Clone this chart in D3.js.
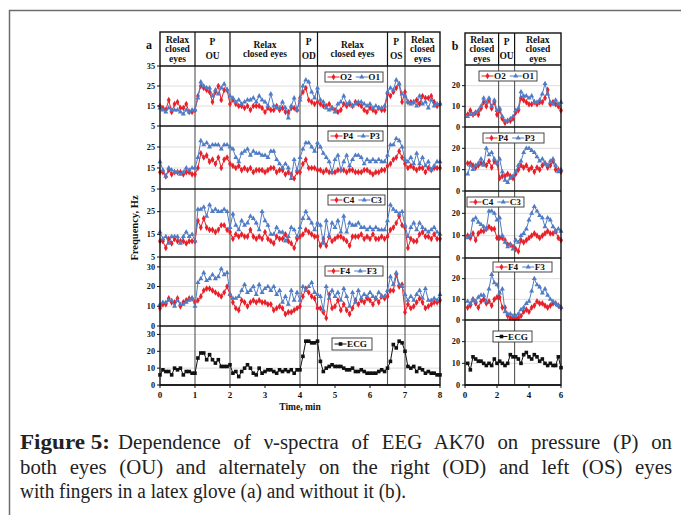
<!DOCTYPE html>
<html><head><meta charset="utf-8">
<script src="https://cdn.jsdelivr.net/npm/d3@7"></script>
<style>body{margin:0;background:#fff}svg{display:block}</style>
</head><body><svg id="c" width="681" height="515"></svg>
<script>
// ---------------- DATA ----------------
const timeA = d3.range(97).map(i => i / 12);      // panel a, min
const timeB = d3.range(1, 37).map(i => i / 6);    // panel b, min

const O2a = [15,14,13,18,12,16,17,14,14,16,12,12, 13,20,25,24,23,22,17,22,25,18,23,23,
  16,18,16,15,15,14,15,13,15,15,15,14,12,14,13,13,15,13,14,12,12,14,14,13, 19,22,24,18,17,16,
  17,16,15,15,16,14,13,12,13,16,15,16,15,17,16,15,13,12,14,13,12,14,13,13, 21,20,22,24,26,17,
  22,17,17,17,18,16,20,19,19,20,17,15,16];
const O1a = [14,13,12,14,13,13,13,12,11,13,12,13, 13,19,27,25,24,24,20,23,21,24,26,23,
  20,19,17,18,16,17,18,18,19,17,20,18,17,15,21,15,14,14,17,14,9,15,19,13, 18,25,28,27,22,19,
  24,18,17,14,13,14,12,16,17,20,16,17,15,16,17,17,16,15,16,14,15,14,14,15, 22,24,23,28,26,21,
  20,17,16,17,15,20,16,17,14,18,15,16,16];
const P4a = [13,13,11,14,12,13,13,13,12,13,13,12, 12,15,22,20,21,18,19,17,20,15,19,20,
  17,16,15,16,14,15,14,15,13,14,14,14,13,14,15,15,13,14,14,12,13,12,10,13, 13,17,19,15,15,15,
  14,14,13,14,13,13,13,14,14,14,13,14,14,13,13,13,14,14,13,12,13,13,14,14, 16,17,19,20,23,20,
  17,15,16,15,14,15,15,13,15,14,15,15,15];
const P3a = [18,14,11,15,14,13,13,12,13,15,14,15, 15,20,28,26,27,25,26,26,26,24,26,26,
  25,24,20,18,22,23,24,21,23,22,22,21,21,20,23,23,19,17,15,17,15,10,19,14, 20,24,27,27,25,23,
  27,25,22,20,18,13,19,21,14,18,21,16,19,21,21,20,17,19,18,19,18,19,18,18, 21,26,26,29,28,25,
  19,18,20,17,22,17,20,16,18,14,16,18,18];
const C4a = [12,12,9,13,11,13,12,12,12,11,12,12, 12,21,18,22,18,17,17,16,17,19,19,17,
  16,13,15,14,15,14,14,17,14,13,14,13,16,13,12,11,14,13,13,15,12,11,9,13, 14,15,17,16,15,14,
  14,10,13,10,14,12,13,14,14,13,12,10,14,14,14,15,13,14,13,15,13,13,14,13, 14,17,18,20,23,19,
  18,9,13,12,12,15,16,14,14,13,15,13,13];
const C3a = [16,13,14,11,14,14,14,11,14,16,14,15, 12,26,26,27,23,28,25,26,25,25,26,25,
  18,24,19,17,21,19,20,23,22,20,17,25,21,19,15,15,18,16,16,12,14,18,17,14, 18,22,25,22,20,17,
  20,19,11,21,14,20,18,21,16,23,16,20,19,19,20,18,18,17,18,17,18,17,17,17, 21,28,26,25,24,25,
  19,14,18,20,17,20,18,17,16,17,18,16,15];
const F4a = [9,11,11,14,12,12,14,10,12,13,14,14, 12,13,15,18,19,19,18,17,16,15,17,20,
  16,12,9,8,13,12,10,12,13,12,13,12,12,11,11,8,9,10,9,6,7,7,8,9, 10,15,19,17,15,14,
  9,9,7,4,16,9,10,13,8,11,8,6,9,13,11,13,12,14,13,11,14,12,15,14, 15,18,18,26,20,21,
  7,11,9,10,12,14,12,9,10,11,12,12,13];
const F3a = [11,12,12,13,13,10,13,11,11,12,13,14, 10,22,24,27,23,24,26,24,25,29,26,27,
  16,14,14,15,18,21,17,18,20,16,21,17,19,20,18,20,16,18,12,15,11,18,13,17, 13,20,18,20,22,17,
  16,15,8,20,14,18,15,17,13,19,15,10,17,12,18,14,16,15,17,15,14,17,15,15, 18,25,21,27,21,20,
  16,13,15,13,16,18,14,19,13,13,14,13,16];
const ECGa = [6,9,8,8,6,10,9,10,6,8,8,7, 7,16,19,19,15,18,15,13,15,11,11,11,
  12,7,8,5,8,10,12,10,7,6,10,7,8,9,9,8,7,9,8,9,8,9,7,9, 9,17,26,26,25,25,
  26,14,8,10,11,12,11,11,11,10,9,9,10,8,8,9,8,7,7,7,7,8,9,8, 10,14,24,22,26,25,
  20,11,10,11,8,10,9,7,8,7,7,6,6];

const O2b = [6,8,6,7,6,9,12,10,13,9,12,6, 8,4,2,3,3,4, 7,8,14,13,12,11,11,12,11,12,12,14,18,11,12,11,10,8];
const O1b = [5,6,6,7,8,10,14,12,14,10,13,8, 9,5,3,3,4,5, 8,9,17,15,15,14,15,12,12,13,16,21,16,12,11,13,11,12];
const P4b = [13,13,12,11,12,13,13,12,14,11,14,13, 6,7,7,8,7,6, 8,10,12,11,12,10,11,9,11,10,12,13,11,12,14,10,10,9];
const P3b = [8,12,10,12,13,15,12,20,17,18,15,13, 15,9,5,4,6,7, 9,12,14,18,20,20,19,18,16,14,15,13,12,14,15,12,9,10];
const C4b = [10,9,11,8,11,12,12,13,14,13,13,9, 9,9,8,6,6,5, 4,3,8,7,8,9,10,11,10,9,10,11,12,11,11,12,9,8];
const C3b = [9,10,17,18,16,15,14,13,21,21,20,17, 18,10,7,5,6,4, 8,7,10,11,13,17,20,23,21,19,18,14,18,17,14,12,13,12];
const F4b = [6,7,10,8,6,9,10,8,9,7,10,11, 11,6,6,2,1,1, 1,1,2,4,5,4,6,7,9,8,8,7,6,7,8,8,7,6];
const F3b = [9,8,10,9,11,12,12,9,15,22,18,17, 13,15,4,3,3,2, 2,3,5,6,8,9,14,20,17,16,13,15,12,10,9,8,7,6];
const ECGb = [10,7,13,12,11,11,10,9,10,9,12,10, 11,10,9,10,14,13, 13,12,10,14,15,13,12,14,13,11,12,10,9,10,9,9,13,8];

const phaseBoundsA = [0, 1, 2, 4, 4.5, 6.5, 7, 8];
const phaseBoundsB = [0, 2.1, 3.1, 6];
const phaseLabelsA = [["Relax","closed","eyes"],["P","OU"],["Relax","closed eyes"],["P","OD"],["Relax","closed eyes"],["P","OS"],["Relax","closed","eyes"]];
const phaseLabelsB = [["Relax","closed","eyes"],["P","OU"],["Relax","closed","eyes"]];
const yTicksA = [[35,25,15,5],[25,15,5],[25,15,5],[30,20,10,0],[30,20,10,0]];
const yTicksB = [[20,10,0],[20,10,0],[20,10,0],[20,10,0],[20,10,0]];
const xTicksA = [0,1,2,3,4,5,6,7,8];
const xTicksB = [0,2,4,6];
const rowNames = [["O2","O1"],["P4","P3"],["C4","C3"],["F4","F3"],["ECG"]];
const captionBold = "Figure 5:";
const captionLines = [
  "Dependence of ν-spectra of EEG AK70 on pressure (P) on",
  "both eyes (OU) and alternately on the right (OD) and left (OS) eyes",
  "with fingers in a latex glove (a) and without it (b)."
];

// ---------------- DRAW ----------------
const RED = "#e8202a", BLUE = "#4f7cc4", BLACK = "#111";
const svg = d3.select("#c");
svg.append("rect").attr("width",681).attr("height",515).attr("fill","#fff");
svg.append("path").attr("d","M9.5,515 V10.5 H681").attr("fill","none").attr("stroke","#6d6d6d").attr("stroke-width",1.5);

const FONT = "Liberation Serif, Times New Roman, serif";

function panel(cfg){
  const g = svg.append("g");
  const x = d3.scaleLinear().domain(cfg.xDomain).range([cfg.x0, cfg.x1]);
  const rows = cfg.rowEdges;
  const ys = cfg.series.map((s,i) => d3.scaleLinear().domain(cfg.domains[i]).range([rows[i+1], rows[i]]));
  cfg.series.forEach((s,i) => {
    cfg.yTicks[i].forEach(v => {
      const yy = ys[i](v);
      if (Math.abs(yy-rows[i])<1 || Math.abs(yy-rows[i+1])<1) return;
      g.append("line").attr("x1",cfg.x0).attr("x2",cfg.x1).attr("y1",yy).attr("y2",yy)
        .attr("stroke","#dedede").attr("stroke-width",1);
    });
  });
  cfg.bounds.slice(1,-1).forEach(b => {
    g.append("line").attr("x1",x(b)).attr("x2",x(b)).attr("y1",rows[0]).attr("y2",rows[5])
      .attr("stroke","#555").attr("stroke-width",1.1);
  });
  cfg.series.forEach((ser,i) => {
    const y = ys[i];
    ser.forEach(s => {
      const line = d3.line().x((d,k)=>x(cfg.time[k])).y(d=>y(d));
      g.append("path").attr("d",line(s.values)).attr("fill","none").attr("stroke",s.color).attr("stroke-width",1);
      const sym = d3.symbol().type(s.shape).size(s.size);
      g.selectAll(null).data(s.values).join("path")
        .attr("transform",(d,k)=>`translate(${x(cfg.time[k])},${y(d)})`)
        .attr("d",sym()).attr("fill",s.color);
    });
  });
  rows.forEach(r => g.append("line").attr("x1",cfg.x0).attr("x2",cfg.x1).attr("y1",r).attr("y2",r).attr("stroke","#111").attr("stroke-width",1.3));
  g.append("rect").attr("x",cfg.x0).attr("y",cfg.hTop).attr("width",cfg.x1-cfg.x0).attr("height",rows[5]-cfg.hTop)
    .attr("fill","none").attr("stroke","#111").attr("stroke-width",1.4);
  cfg.bounds.slice(1,-1).forEach(b => {
    g.append("line").attr("x1",x(b)).attr("x2",x(b)).attr("y1",cfg.hTop).attr("y2",rows[0]).attr("stroke","#111").attr("stroke-width",1.2);
  });
  cfg.labels.forEach((lab,i) => {
    const cx = (x(cfg.bounds[i])+x(cfg.bounds[i+1]))/2;
    const cy = (cfg.hTop+rows[0])/2;
    const lh = lab[0]==="P" ? 14 : 9.4;
    const t = g.append("text").attr("font-family",FONT).attr("font-weight","bold").attr("font-size",9.5)
      .attr("text-anchor","middle").attr("fill","#111");
    lab.forEach((s,k) => {
      t.append("tspan").attr("x",cx).attr("y",cy + (k-(lab.length-1)/2)*lh + 3.3).text(s);
    });
  });
  cfg.series.forEach((s,i) => {
    cfg.yTicks[i].forEach(v => {
      const yy = ys[i](v);
      g.append("line").attr("x1",cfg.x0-3).attr("x2",cfg.x0).attr("y1",yy).attr("y2",yy).attr("stroke","#111");
      g.append("text").attr("x",cfg.x0-5).attr("y",yy+2.8).attr("text-anchor","end")
        .attr("font-family",FONT).attr("font-weight","bold").attr("font-size",8.2).attr("fill","#111").text(v);
    });
  });
  cfg.xTicks.forEach(v => {
    g.append("line").attr("x1",x(v)).attr("x2",x(v)).attr("y1",rows[5]).attr("y2",rows[5]+3).attr("stroke","#111");
    g.append("text").attr("x",x(v)).attr("y",rows[5]+13).attr("text-anchor","middle")
      .attr("font-family",FONT).attr("font-weight","bold").attr("font-size",9).attr("fill","#111").text(v);
  });
  cfg.series.forEach((ser,i) => {
    const L = cfg.legends[i];
    const h = L.h;
    const lg = g.append("g").attr("transform",`translate(${L.x},${L.y})`);
    const box = lg.append("rect").attr("height",h).attr("fill","#fff").attr("stroke","#333").attr("stroke-width",0.9);
    let px = 2.5;
    ser.forEach((s,k) => {
      lg.append("line").attr("x1",px).attr("x2",px+12).attr("y1",h/2).attr("y2",h/2).attr("stroke",s.color).attr("stroke-width",1);
      lg.append("path").attr("transform",`translate(${px+6},${h/2})`).attr("d",d3.symbol().type(s.shape).size(s.size)()).attr("fill",s.color);
      const tx = lg.append("text").attr("x",px+12.5).attr("y",h/2+3.2).attr("font-family",FONT).attr("font-weight","bold")
        .attr("font-size",9.2).attr("fill","#111").text(s.name);
      px += 12.5 + tx.node().getComputedTextLength() + (k < ser.length-1 ? 4 : 3);
    });
    box.attr("width",Math.max(px, L.w));
  });
  g.append("text").attr("x",cfg.tagX).attr("y",cfg.tagY).attr("font-family",FONT).attr("font-weight","bold")
    .attr("font-size",12).attr("fill","#111").attr("text-anchor","middle").text(cfg.tag);
}

function mk(names, vals){
  const styles = [{color:RED,shape:d3.symbolDiamond,size:13},{color:BLUE,shape:d3.symbolTriangle,size:11}];
  if (names.length===1) return [{name:names[0],values:vals[0],color:BLACK,shape:d3.symbolSquare,size:13}];
  return names.map((n,i)=>({name:n,values:vals[i],...styles[i]}));
}

panel({
  tag:"a", tagX:149, tagY:49,
  x0:160, x1:440, hTop:32, rowEdges:[66,126,189,257,326,385], xDomain:[0,8], time:timeA,
  domains:[[5,35],[5,35],[5,35],[0,35],[0,35]],
  bounds:phaseBoundsA, labels:phaseLabelsA, yTicks:yTicksA, xTicks:xTicksA,
  series:[mk(rowNames[0],[O2a,O1a]),mk(rowNames[1],[P4a,P3a]),mk(rowNames[2],[C4a,C3a]),mk(rowNames[3],[F4a,F3a]),mk(rowNames[4],[ECGa])],
  legends:[{x:325,y:72,w:57,h:10},{x:328,y:131,w:55,h:10},{x:328,y:195,w:55,h:10},{x:325,y:266,w:58,h:10},{x:332,y:338,w:40,h:12}]
});
panel({
  tag:"b", tagX:455, tagY:50,
  x0:465, x1:561, hTop:33, rowEdges:[65,127,191,258,320,385], xDomain:[0,6], time:timeB,
  domains:[[0,30],[0,30],[0,30],[0,30],[0,30]],
  bounds:phaseBoundsB, labels:phaseLabelsB, yTicks:yTicksB, xTicks:xTicksB,
  series:[mk(rowNames[0],[O2b,O1b]),mk(rowNames[1],[P4b,P3b]),mk(rowNames[2],[C4b,C3b]),mk(rowNames[3],[F4b,F3b]),mk(rowNames[4],[ECGb])],
  legends:[{x:479,y:71,w:57,h:10},{x:483,y:133,w:61,h:10},{x:467,y:197,w:53,h:10},{x:493,y:262,w:59,h:10},{x:493,y:331,w:39,h:11}]
});

svg.append("text").attr("transform","translate(138,228) rotate(-90)").attr("text-anchor","middle")
  .attr("font-family",FONT).attr("font-weight","bold").attr("font-size",10.5).attr("fill","#111").text("Frequency, Hz");
svg.append("text").attr("x",300).attr("y",410).attr("text-anchor","middle")
  .attr("font-family",FONT).attr("font-weight","bold").attr("font-size",9.5).attr("fill","#111").text("Time, min");

// caption (lines 1-2 justified with word spacing)
const CAPF = 20.8;
const capY = [449, 474, 498];
svg.append("text").attr("x",20).attr("y",capY[0]).attr("font-family",FONT).attr("font-weight","bold")
  .attr("font-size",CAPF).attr("fill","#222").attr("textLength",90).attr("lengthAdjust","spacingAndGlyphs").text(captionBold);
const capX = [118, 20, 20];
const capEnd = [672, 672, null];
captionLines.forEach((s,i) => {
  const t = svg.append("text").attr("x",capX[i]).attr("y",capY[i]).attr("font-family",FONT)
    .attr("font-size",CAPF).attr("fill","#222").text(s);
  if (capEnd[i]) {
    const w = t.node().getComputedTextLength();
    const n = (s.match(/ /g)||[]).length;
    t.attr("word-spacing", Math.max(0,(capEnd[i]-capX[i]-w)/n));
  } else {
    t.attr("textLength", 386).attr("lengthAdjust","spacingAndGlyphs");
  }
});
</script></body></html>
